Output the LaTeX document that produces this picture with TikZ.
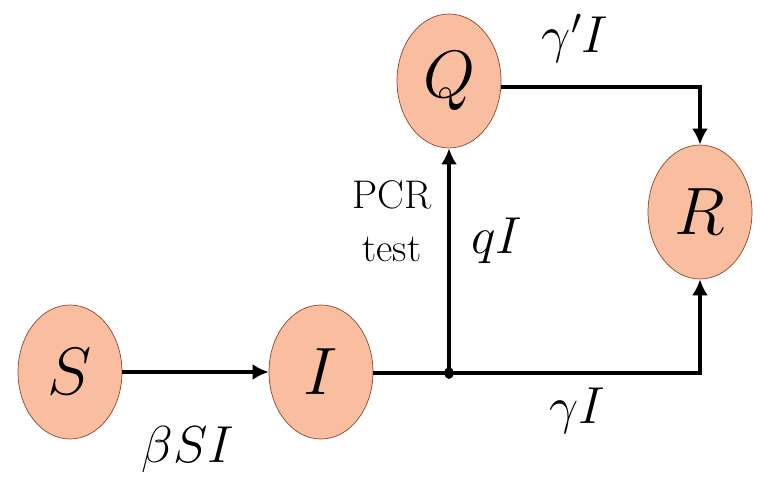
\documentclass[tikz,border=0pt]{standalone}
\usepackage{fix-cm}
\usetikzlibrary{shapes.geometric, arrows.meta}
\definecolor{compfill}{RGB}{249,190,160}
\definecolor{compline}{RGB}{140,70,45}

\begin{document}
\begin{tikzpicture}[x=1pt, y=1pt,
	comp/.style={ellipse, draw=compline, line width=0.7pt, fill=compfill, minimum width=104pt, minimum height=134pt, inner sep=0pt, font=\fontsize{67}{67}\selectfont},
	flow/.style={line width=3.3pt, -{Latex[length=16pt, width=16pt]}},
	rate/.style={anchor=base, inner sep=0pt, font=\fontsize{52}{52}\selectfont}]
	\useasboundingbox (0,0) rectangle (762,477);
	% compartments
	\node [comp] (S) at (70,105) {$S$};
	\node [comp] (I) at (321,105) {$I$};
	\node [comp] (Q) at (449,396) {$Q$};
	\node [comp] (R) at (700,265) {$R$};
	\coordinate (J) at (449,104);
	% flows
	\draw [flow] (S) -- (I);
	\draw [line width=3.3pt] (I.east |- J) -- (J);
	\draw [flow] (J) -- (Q);
	\draw [flow] (J) -| (R);
	\draw [flow] ([yshift=-6pt]Q.east) -| (R);
	\fill (J) ellipse (4.5pt and 6pt);
	% rates
	\node [rate] (bsi) at (188,15) {$\beta SI$};
	\node [rate] (gi) at (577,54) {$\gamma I$};
	\node [rate] (gpi) at (575,424) {$\gamma' I$};
	\node [rate] (qi) at (497,224) {$qI$};
	\node [anchor=base, inner sep=0pt, align=center, font=\fontsize{40}{53}\selectfont] (pcr) at (392,215) {PCR\\test};
\end{tikzpicture}
\end{document}
